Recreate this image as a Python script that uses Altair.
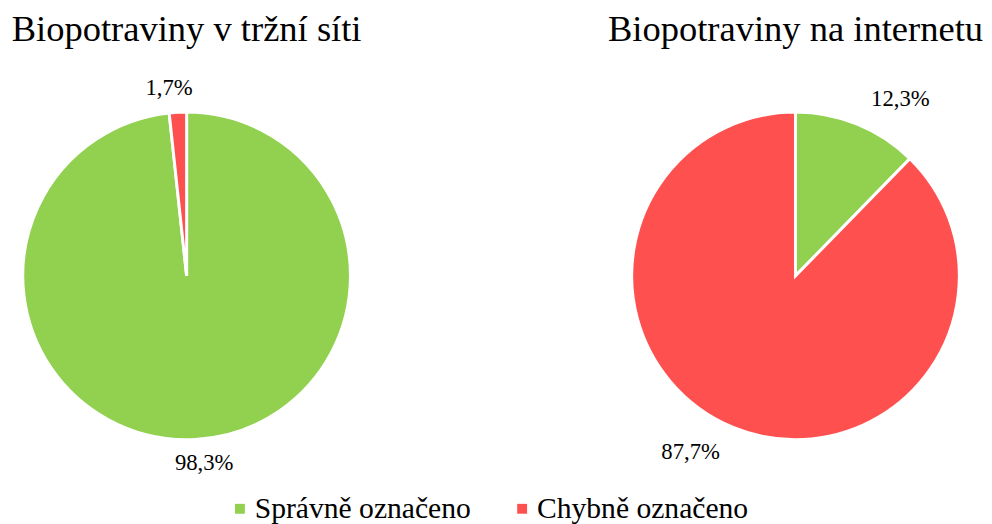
import altair as alt
import pandas as pd

categories = ["Správně označeno", "Chybně označeno"]
titles = ["Biopotraviny v tržní síti", "Biopotraviny na internetu"]
values_trzni = [98.3, 1.7]
values_internet = [12.3, 87.7]
labels_trzni = ["98,3%", "1,7%"]
labels_internet = ["12,3%", "87,7%"]

colors = ["#92D050", "#FF5050"]
FONT = "Liberation Serif, Times New Roman, serif"


def panel(title, values, labels, label_radius, label_theta_offset):
    df = pd.DataFrame({
        "category": categories,
        "value": values,
        "label": labels,
        "order": list(range(len(categories))),
    })
    base = alt.Chart(df).encode(
        theta=alt.Theta("value:Q", stack=True),
        order=alt.Order("order:Q"),
    )
    arc = base.mark_arc(outerRadius=166, stroke="white", strokeWidth=3).encode(
        color=alt.Color(
            "category:N",
            scale=alt.Scale(domain=categories, range=colors),
            sort=categories,
            legend=alt.Legend(title=None),
        )
    )
    text = base.mark_text(
        radius=label_radius, thetaOffset=label_theta_offset,
        font=FONT, fontSize=23, color="black",
    ).encode(text="label:N", detail="category:N")
    return (arc + text).properties(
        width=362,
        height=406,
        title=alt.TitleParams(
            title, fontSize=37, font=FONT, fontWeight="normal",
            anchor="middle", offset=25, dy=-2,
        ),
    )


chart = alt.hconcat(
    panel(titles[0], values_trzni, labels_trzni, 191, -0.04),
    panel(titles[1], values_internet, labels_internet, 208, 0.15),
    spacing=245,
).properties(
    padding={"top": 0, "left": 0, "right": 0, "bottom": 0}
).configure_view(stroke=None).configure_legend(
    orient="none",
    legendX=220,
    legendY=424,
    direction="horizontal",
    labelFont=FONT,
    labelFontSize=30,
    labelColor="black",
    symbolType="square",
    symbolSize=100,
    symbolStrokeWidth=0,
    columnPadding=36,
    labelOffset=0,
    labelLimit=0,
)

chart.save("out.html", embed_options={"renderer": "svg", "actions": False})
